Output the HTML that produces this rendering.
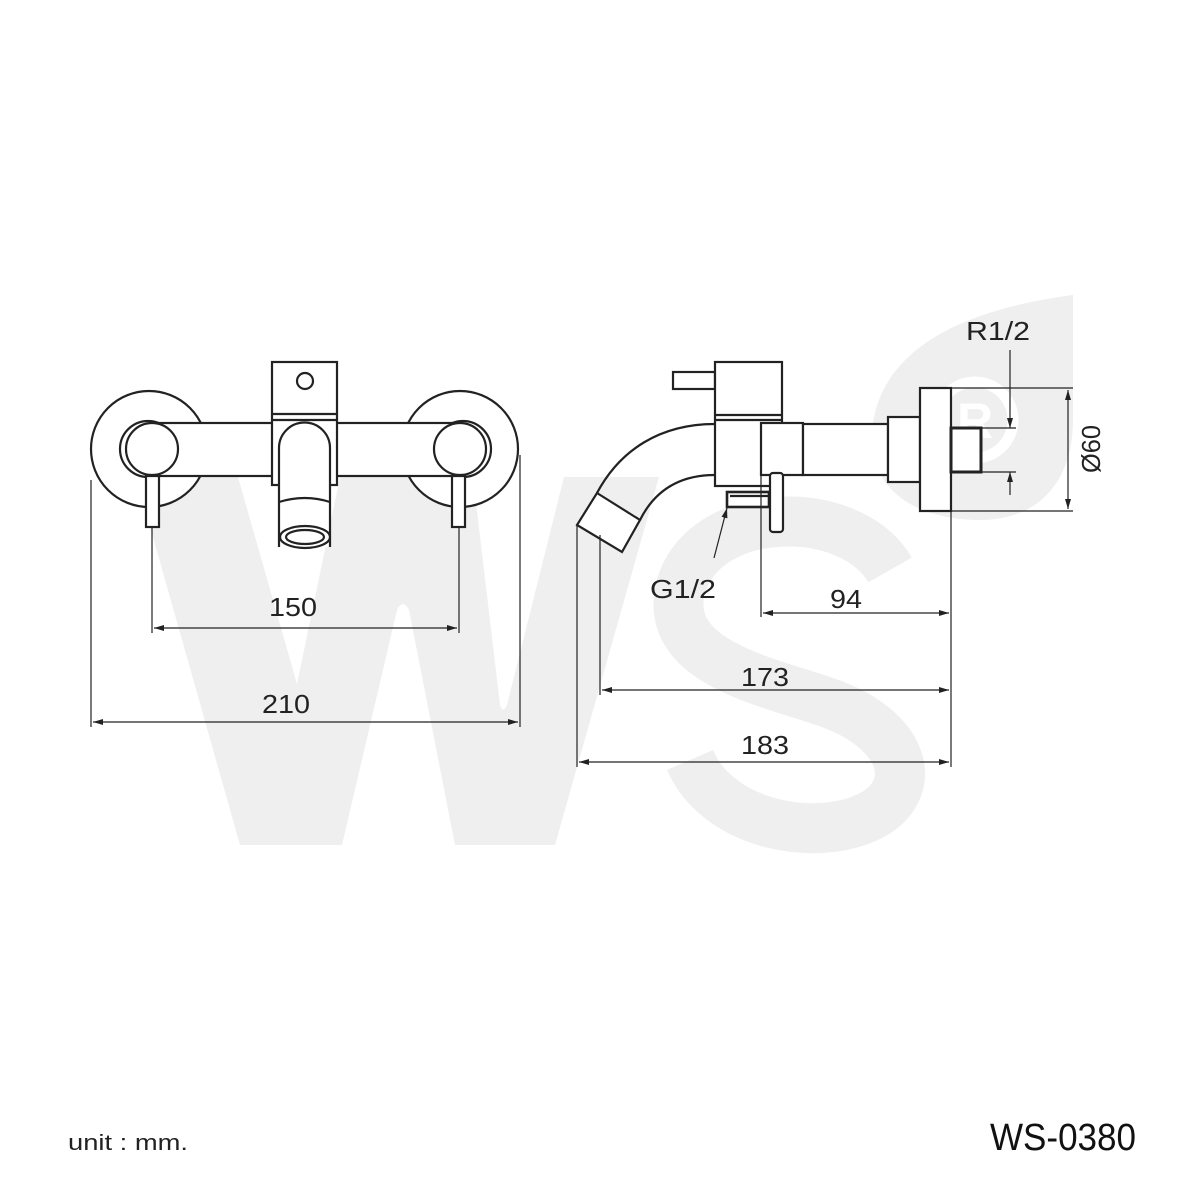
<!DOCTYPE html>
<html><head><meta charset="utf-8"><style>html,body{margin:0;padding:0;background:#fff}svg{display:block}</style></head>
<body>
<svg width="1181" height="1181" viewBox="0 0 1181 1181" xmlns="http://www.w3.org/2000/svg">
<defs>
<marker id="a" viewBox="0 0 10 6" refX="10" refY="3" markerWidth="10" markerHeight="6" orient="auto-start-reverse" markerUnits="userSpaceOnUse"><path d="M0,0 L10,3 L0,6 Z" fill="#222"/></marker>
</defs>
<rect width="1181" height="1181" fill="#fff"/>
<!-- watermark -->
<path d="M136,477 L238,477 L297,684 L340,477 L473,477 L500,705 Q503,714 507,705 L564,477 L659,477 L555,845 L455,845 L409,610 Q403,598 397,610 L342,845 L240,845 Z" fill="#efefef"/>
<path d="M890,570 C850,500 700,505 680,590 C665,660 760,680 820,700 C900,725 920,780 880,810 C830,845 720,830 690,760" fill="none" stroke="#efefef" stroke-width="50"/>
<path d="M1073,295 C960,310 880,350 872,430 C868,500 930,520 980,520 C1040,520 1073,480 1073,420 Z" fill="#efefef"/>
<circle cx="975" cy="420" r="38" fill="none" stroke="#fff" stroke-width="11"/>
<text x="975" y="438" font-family="Liberation Sans, sans-serif" font-size="50" font-weight="bold" fill="#fff" text-anchor="middle">R</text>

<g fill="none" stroke="#222" stroke-width="2.2">
<!-- left view -->
<circle cx="149" cy="449" r="58" fill="#fff"/>
<circle cx="460" cy="449" r="58" fill="#fff"/>
<circle cx="148" cy="449" r="28"/>
<circle cx="463" cy="449" r="28"/>
<rect x="152" y="423" width="308" height="53" fill="#fff"/>
<circle cx="152" cy="449" r="26" fill="#fff"/>
<circle cx="460" cy="449" r="26" fill="#fff"/>
<rect x="272" y="362" width="65" height="123" fill="#fff"/>
<line x1="272" y1="414" x2="337" y2="414"/><line x1="272" y1="420" x2="337" y2="420"/>
<circle cx="305" cy="381" r="8"/>
<path d="M279,547 L279,448 A25.5,25.5 0 0 1 330,448 L330,547" fill="#fff"/>
<path d="M279,502 Q305,494 330,502"/>
<ellipse cx="305" cy="537" rx="25" ry="11" fill="#fff"/>
<ellipse cx="305" cy="537" rx="19" ry="7"/>
<rect x="146" y="476" width="13" height="51" fill="#fff"/>
<rect x="452" y="476" width="13" height="51" fill="#fff"/>
<!-- right view -->
<rect x="673" y="372" width="42" height="17" fill="#fff"/>
<rect x="715" y="362" width="67" height="124" fill="#fff"/>
<line x1="715" y1="415" x2="782" y2="415"/><line x1="715" y1="420" x2="782" y2="420"/>
<path d="M715,424 C660,424 620,450 597,493"/>
<path d="M715,475 C680,475 655,490 640,520"/>
<path d="M597,493 L640,520 L622,552 L577,525 Z" fill="#fff"/>
<rect x="761" y="423" width="42" height="52" fill="#fff"/>
<rect x="803" y="424" width="85" height="51" fill="#fff"/>
<rect x="888" y="417" width="32" height="65" fill="#fff"/>
<rect x="920" y="388" width="31" height="123" fill="#fff"/>
<rect x="951" y="428" width="30" height="44" fill="#fff" stroke-width="3"/>
<rect x="727" y="492" width="42" height="15" fill="#fff" stroke-width="2.6"/>
<line x1="730" y1="496" x2="769" y2="496"/>
<rect x="770" y="473" width="13" height="59" rx="3" fill="#fff"/>
</g>
<g stroke="#222" stroke-width="1.2" fill="none">
<line x1="91" y1="480" x2="91" y2="727"/><line x1="520" y1="455" x2="520" y2="727"/>
<line x1="152" y1="527" x2="152" y2="633"/><line x1="459" y1="527" x2="459" y2="633"/>
<line x1="154" y1="628" x2="457" y2="628" marker-start="url(#a)" marker-end="url(#a)"/>
<line x1="93" y1="722" x2="518" y2="722" marker-start="url(#a)" marker-end="url(#a)"/>
<line x1="951" y1="511" x2="951" y2="767"/><line x1="761" y1="475" x2="761" y2="617"/>
<line x1="600" y1="535" x2="600" y2="695"/><line x1="577" y1="525" x2="577" y2="767"/>
<line x1="763" y1="613" x2="949" y2="613" marker-start="url(#a)" marker-end="url(#a)"/>
<line x1="602" y1="690" x2="949" y2="690" marker-start="url(#a)" marker-end="url(#a)"/>
<line x1="579" y1="762" x2="949" y2="762" marker-start="url(#a)" marker-end="url(#a)"/>
<line x1="951" y1="388" x2="1073" y2="388"/><line x1="951" y1="511" x2="1073" y2="511"/>
<line x1="1068" y1="390" x2="1068" y2="509" marker-start="url(#a)" marker-end="url(#a)"/>
<line x1="981" y1="428" x2="1016" y2="428"/><line x1="981" y1="472" x2="1016" y2="472"/>
<line x1="1010" y1="350" x2="1010" y2="428" marker-end="url(#a)"/>
<line x1="1010" y1="495" x2="1010" y2="472" marker-end="url(#a)"/>
<line x1="714" y1="558" x2="727" y2="508" marker-end="url(#a)"/>
</g>
<g font-family="Liberation Sans, sans-serif" font-size="26" fill="#222" text-anchor="middle">
<text x="293" y="616" textLength="48" lengthAdjust="spacingAndGlyphs">150</text>
<text x="286" y="713" textLength="48" lengthAdjust="spacingAndGlyphs">210</text>
<text x="683" y="598" textLength="66" lengthAdjust="spacingAndGlyphs">G1/2</text>
<text x="846" y="608" textLength="32" lengthAdjust="spacingAndGlyphs">94</text>
<text x="765" y="686" textLength="48" lengthAdjust="spacingAndGlyphs">173</text>
<text x="765" y="754" textLength="48" lengthAdjust="spacingAndGlyphs">183</text>
<text x="998" y="340" textLength="64" lengthAdjust="spacingAndGlyphs">R1/2</text>
<text transform="translate(1100,449) rotate(-90)" textLength="48" lengthAdjust="spacingAndGlyphs">Ø60</text>
</g>
<text x="68" y="1150" font-family="Liberation Sans, sans-serif" font-size="22" fill="#222" textLength="120" lengthAdjust="spacingAndGlyphs">unit : mm.</text>
<text x="990" y="1150" font-family="Liberation Sans, sans-serif" font-size="38" fill="#111" textLength="146" lengthAdjust="spacingAndGlyphs">WS-0380</text>
</svg>
</body></html>
